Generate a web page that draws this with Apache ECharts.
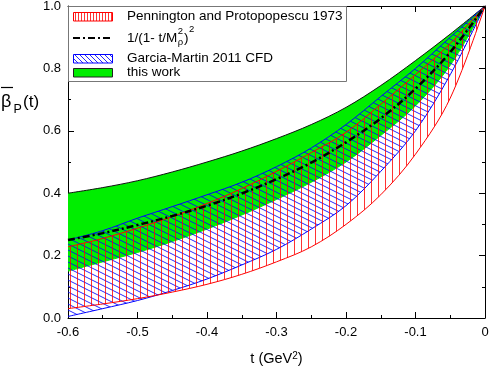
<!DOCTYPE html>
<html>
<head>
<meta charset="utf-8">
<script src="https://cdn.jsdelivr.net/npm/echarts@6/dist/echarts.min.js"></script>
<style>
  html, body { margin: 0; padding: 0; background: #fff; }
  #chart { width: 491px; height: 368px; }
</style>
</head>
<body>
<div id="chart"></div>
<script>
// t (GeV^2) sample points (evenly spaced)
const tValues = [-0.6, -0.55, -0.5, -0.45, -0.4, -0.35, -0.3, -0.25, -0.2, -0.15, -0.1, -0.05, 0];

// Pennington and Protopopescu 1973 band
const penLow  = [0.030, 0.045, 0.062, 0.083, 0.108, 0.140, 0.180, 0.228, 0.300, 0.395, 0.525, 0.705, 1.0];
const penHigh = [0.228, 0.255, 0.288, 0.325, 0.367, 0.415, 0.470, 0.530, 0.595, 0.685, 0.780, 0.880, 1.0];

// Garcia-Martin 2011 CFD band
const garLow  = [0.005, 0.030, 0.056, 0.088, 0.125, 0.170, 0.220, 0.285, 0.360, 0.470, 0.600, 0.780, 1.0];
const garHigh = [0.250, 0.280, 0.320, 0.357, 0.395, 0.435, 0.485, 0.545, 0.620, 0.710, 0.800, 0.900, 1.0];

// this work band
const workLow  = [0.150, 0.180, 0.210, 0.245, 0.285, 0.330, 0.380, 0.435, 0.500, 0.585, 0.680, 0.810, 1.0];
const workHigh = [0.400, 0.418, 0.440, 0.468, 0.500, 0.535, 0.575, 0.620, 0.675, 0.745, 0.825, 0.910, 1.0];

// 1/(1-t/M_rho^2)^2 curve
const rhoLine = [0.250, 0.272, 0.298, 0.327, 0.360, 0.399, 0.445, 0.498, 0.563, 0.640, 0.735, 0.852, 1.0];

const xTicks = [-0.6, 0, 0.1];   // min, max, step
const yTicks = [0, 1, 0.2];

const FONT = '"Liberation Sans", Arial, Helvetica, sans-serif';

function makePattern(w, h, draw) {
  let c = document.createElement('canvas');
  c.width = w;
  c.height = h;
  draw(c.getContext('2d'), w, h);
  return { image: c, repeat: 'repeat' };
}

function vertLines(step, color) {
  return makePattern(step, 4, function (ctx, w, h) {
    ctx.strokeStyle = color;
    ctx.lineWidth = 1;
    ctx.beginPath();
    ctx.moveTo(0.5, 0);
    ctx.lineTo(0.5, h);
    ctx.stroke();
  });
}

function diagLines(w, h, color) {
  return makePattern(w, h, function (ctx) {
    ctx.strokeStyle = color;
    ctx.lineWidth = 1;
    ctx.beginPath();
    for (let k = -1; k <= 1; k++) {
      ctx.moveTo(0, k * h);
      ctx.lineTo(w, (k + 1) * h);
    }
    ctx.stroke();
  });
}

const redHatch = vertLines(7, 'rgba(255,0,0,0.8)');
const blueHatch = diagLines(12, 6, 'rgba(0,0,255,0.85)');
const redHatchSmall = vertLines(3, 'rgba(255,0,0,0.8)');
const blueHatchSmall = diagLines(5, 5, 'rgba(0,0,255,0.85)');
const green = '#00ee00';

// bands are stacked on a hidden category axis whose points are the evenly spaced t values
function band(id, low, high, edge, topEdge, fill, z) {
  let diff = high.map(function (v, i) { return +(v - low[i]).toFixed(4); });
  return [
    {
      name: id + ' low', type: 'line', stack: id, data: low, xAxisIndex: 2,
      smooth: 0.35, showSymbol: false, silent: true, z: z,
      lineStyle: { color: edge, width: 1 }
    },
    {
      name: id, type: 'line', stack: id, data: diff, xAxisIndex: 2,
      smooth: 0.35, showSymbol: false, silent: true, z: z,
      lineStyle: { color: topEdge, width: 1 },
      areaStyle: { color: fill, opacity: 1 }
    }
  ];
}

// text widths for the legend formula
let measure = document.createElement('canvas').getContext('2d');
function textWidth(str, size) {
  measure.font = size + 'px ' + FONT;
  return measure.measureText(str).width;
}

const legendX = 127;
const fs = 13.5;
const w1 = textWidth('1/(1- t/M', fs);
const wSup = textWidth('2', 9.5);
const wParen = textWidth(')', fs);

let legendGraphics = [
  { type: 'rect', shape: { x: 68.5, y: 6.5, width: 278, height: 75 },
    style: { fill: '#fff', stroke: '#777', lineWidth: 1 }, z: 100 },
  { type: 'rect', shape: { x: 73.5, y: 12.5, width: 39, height: 8.5 },
    style: { fill: redHatchSmall, stroke: '#ff0000', lineWidth: 1 }, z: 101 },
  { type: 'line', shape: { x1: 73, y1: 38, x2: 113, y2: 38 },
    style: { stroke: '#000', lineWidth: 2, lineDash: [7, 3, 2, 3] }, z: 101 },
  { type: 'rect', shape: { x: 73.5, y: 54.5, width: 39, height: 8.5 },
    style: { fill: blueHatchSmall, stroke: '#0000ff', lineWidth: 1 }, z: 101 },
  { type: 'rect', shape: { x: 73.5, y: 68.5, width: 39, height: 8.5 },
    style: { fill: green, stroke: '#222', lineWidth: 1 }, z: 101 },
  { type: 'text', x: legendX, y: 16, z: 101,
    style: { text: 'Pennington and Protopopescu 1973', font: fs + 'px ' + FONT, fill: '#000', verticalAlign: 'middle' } },
  { type: 'text', x: legendX, y: 38, z: 101,
    style: { text: '1/(1- t/M', font: fs + 'px ' + FONT, fill: '#000', verticalAlign: 'middle' } },
  { type: 'text', x: legendX + w1 + 0.5, y: 31.5, z: 101,
    style: { text: '2', font: '9.5px ' + FONT, fill: '#000', verticalAlign: 'middle' } },
  { type: 'text', x: legendX + w1 + 0.5, y: 42, z: 101,
    style: { text: 'ρ', font: '9.5px ' + FONT, fill: '#000', verticalAlign: 'middle' } },
  { type: 'text', x: legendX + w1 + wSup + 1.5, y: 38, z: 101,
    style: { text: ')', font: fs + 'px ' + FONT, fill: '#000', verticalAlign: 'middle' } },
  { type: 'text', x: legendX + w1 + wSup + wParen + 2, y: 29, z: 101,
    style: { text: '2', font: '9.5px ' + FONT, fill: '#000', verticalAlign: 'middle' } },
  { type: 'text', x: legendX, y: 58.5, z: 101,
    style: { text: 'Garcia-Martin 2011 CFD', font: fs + 'px ' + FONT, fill: '#000', verticalAlign: 'middle' } },
  { type: 'text', x: legendX, y: 72.5, z: 101,
    style: { text: 'this work', font: fs + 'px ' + FONT, fill: '#000', verticalAlign: 'middle' } },
  // y axis title: beta-bar_P(t)
  { type: 'text', x: 1, y: 102, z: 101,
    style: { text: 'β', font: '18px ' + FONT, fill: '#000', verticalAlign: 'middle' } },
  { type: 'line', shape: { x1: 1, y1: 87.5, x2: 13, y2: 87.5 },
    style: { stroke: '#000', lineWidth: 1.2 }, z: 101 },
  { type: 'text', x: 13.5, y: 109.5, z: 101,
    style: { text: 'P', font: '12.5px ' + FONT, fill: '#000', verticalAlign: 'middle' } },
  { type: 'text', x: 23, y: 102.5, z: 101,
    style: { text: '(t)', font: '17px ' + FONT, fill: '#000', verticalAlign: 'middle' } }
];

function axisCommon(show) {
  return {
    type: 'value',
    axisLine: { show: true, onZero: false, lineStyle: { color: '#000', width: 1 } },
    axisTick: { show: true, inside: true, length: 6, lineStyle: { color: '#000' } },
    minorTick: { show: true, splitNumber: 2, length: 3, lineStyle: { color: '#000' } },
    splitLine: { show: false },
    axisLabel: { show: show, color: '#000', fontSize: 13, fontFamily: FONT }
  };
}

let xBottom = Object.assign(axisCommon(true), {
  position: 'bottom', min: xTicks[0], max: xTicks[1], interval: xTicks[2],
  name: 't (GeV{s|2})', nameLocation: 'middle', nameGap: 33,
  nameTextStyle: { color: '#000', fontSize: 14.5, fontFamily: FONT,
    rich: { s: { fontSize: 10, fontFamily: FONT, color: '#000', verticalAlign: 'top', lineHeight: 10 } } }
});
xBottom.axisLabel.margin = 8;
xBottom.axisLabel.formatter = function (v) { return Math.abs(v) < 1e-9 ? '0' : v.toFixed(1); };

let xTop = Object.assign(axisCommon(false), {
  position: 'top', min: xTicks[0], max: xTicks[1], interval: xTicks[2]
});

let xCat = {
  type: 'category', data: tValues.map(String), boundaryGap: false, show: false,
  position: 'bottom'
};

let yLeft = Object.assign(axisCommon(true), {
  position: 'left', min: yTicks[0], max: yTicks[1], interval: yTicks[2]
});
yLeft.axisLabel.margin = 7;
yLeft.axisLabel.formatter = function (v) { return v.toFixed(1); };

let yRight = Object.assign(axisCommon(false), {
  position: 'right', min: yTicks[0], max: yTicks[1], interval: yTicks[2]
});

let series = []
  .concat(band('this work', workLow, workHigh, green, '#111', green, 2))
  .concat(band('Garcia-Martin 2011 CFD', garLow, garHigh, '#0000ff', '#0000ff', blueHatch, 3))
  .concat(band('Pennington and Protopopescu 1973', penLow, penHigh, '#ff0000', '#ff0000', redHatch, 4));

series.push({
  name: '1/(1-t/M^2)^2', type: 'line', data: rhoLine, xAxisIndex: 2,
  smooth: 0.35, showSymbol: false, silent: true, z: 6,
  lineStyle: { color: '#000', width: 2.5, type: [7, 3, 2, 3] }
});

let option = {
  animation: false,
  backgroundColor: '#fff',
  grid: { left: 68, right: 6, top: 6, bottom: 50, containLabel: false, outerBoundsMode: 'none' },
  xAxis: [xBottom, xTop, xCat],
  yAxis: [yLeft, yRight],
  series: series,
  graphic: legendGraphics
};

let chart = echarts.init(document.getElementById('chart'), null, { renderer: 'canvas' });
chart.setOption(option);
</script>
</body>
</html>
